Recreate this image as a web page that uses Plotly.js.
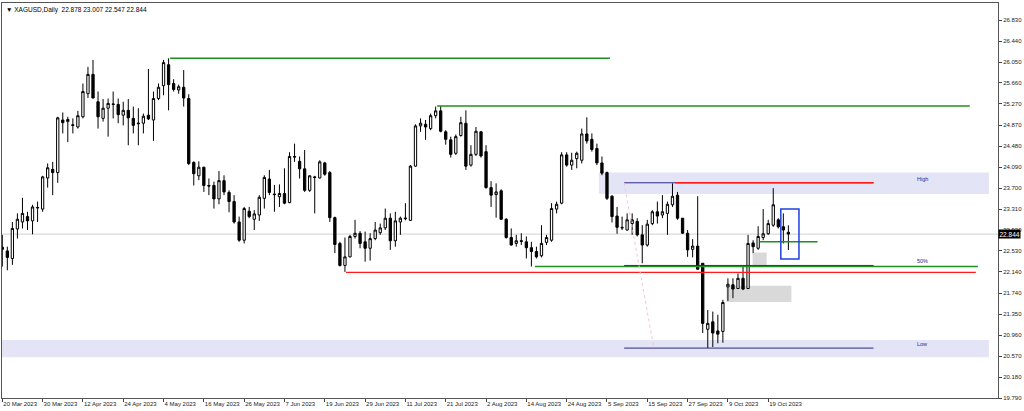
<!DOCTYPE html>
<html>
<head>
<meta charset="utf-8">
<script src="https://cdn.plot.ly/plotly-3.0.1.min.js"></script>
<style>html,body{margin:0;padding:0;background:#fff;}#chart{width:1024px;height:411px;}</style>
</head>
<body>
<div id="chart"></div>
<script>
// ---- daily bars, index 0 = 20 Mar 2023 ----
const openP  = [22.60,22.53,22.39,22.94,23.07,23.17,23.09,23.33,23.31,23.89,24.05,23.99,24.97,24.94,24.88,24.84,25.03,25.46,25.82,25.31,
25.00,25.19,25.27,25.26,25.06,25.15,25.00,24.90,24.91,25.06,24.97,25.37,25.61,26.00,25.65,25.53,25.58,25.37,24.18,23.93,
24.09,23.75,23.75,23.50,23.84,23.62,23.45,23.07,22.73,23.27,23.12,23.20,23.51,23.87,23.59,23.54,23.60,23.43,24.29,24.20,
24.06,23.66,23.91,23.89,24.17,23.99,23.15,22.67,22.26,22.42,22.80,22.86,22.70,22.58,22.76,22.87,22.96,23.14,22.72,23.07,
23.13,23.10,24.11,24.86,24.89,24.81,25.05,25.14,24.75,24.60,24.35,24.68,24.91,24.13,24.33,24.75,24.38,23.71,23.58,23.65,
23.12,22.78,22.67,22.72,22.70,22.59,22.52,22.44,22.69,22.73,23.31,23.42,24.32,24.13,24.25,24.22,24.71,24.61,24.44,24.17,
23.99,23.55,23.18,22.97,22.92,23.04,23.08,22.83,22.64,23.04,23.26,23.20,23.23,23.39,23.57,23.14,22.86,22.56,22.62,22.30,
21.07,21.21,21.04,21.03,21.86,21.90,21.83,22.02,21.83,22.68,22.58,22.78,22.85,23.01,23.11,22.98,22.878];
const highP  = [22.83,22.61,23.07,23.23,23.52,23.26,23.39,23.45,23.93,24.16,24.19,25.03,25.11,25.03,25.00,25.14,25.65,25.96,26.09,25.50,
25.36,25.37,25.50,25.37,25.31,25.36,25.22,25.19,25.09,25.92,25.50,25.65,26.09,26.12,25.73,25.63,25.90,25.45,24.20,24.20,
24.10,23.88,23.82,24.02,23.94,23.66,23.57,23.17,23.35,23.35,23.29,23.57,23.94,24.04,23.76,23.77,24.07,24.37,24.53,24.29,
24.41,23.94,23.93,24.22,24.19,24.02,23.17,22.70,22.78,22.83,23.11,22.90,22.89,22.86,23.07,23.04,23.32,23.23,23.26,23.17,
23.42,24.13,24.89,25.00,24.97,25.09,25.22,25.23,24.78,24.66,24.70,25.03,25.15,24.50,24.84,24.76,24.50,23.83,23.79,23.68,
23.14,22.95,22.83,22.86,22.80,22.70,22.61,23.01,22.83,23.42,23.45,24.37,24.37,24.36,24.38,24.81,25.02,24.72,24.53,24.29,
24.01,23.57,23.35,23.17,23.23,23.23,23.14,23.01,23.11,23.29,23.45,23.57,23.45,23.79,23.63,23.14,22.92,22.75,23.55,22.30,
21.43,21.40,21.34,21.62,22.02,22.02,22.11,22.24,22.83,22.73,22.99,23.31,23.11,23.70,23.14,23.23,23.007];
const lowP   = [22.24,22.17,22.27,22.76,22.95,22.92,22.84,23.07,23.26,23.71,23.57,23.80,24.72,24.56,24.72,24.81,25.00,25.38,25.37,24.81,
24.94,24.66,25.00,24.91,24.87,24.50,24.72,24.50,24.72,24.97,24.58,25.34,25.43,25.15,25.50,25.46,25.22,24.13,23.75,23.85,
23.63,23.57,23.32,23.40,23.57,23.25,23.04,22.70,22.67,23.14,22.92,23.09,23.32,23.57,23.26,23.35,23.40,23.42,24.19,23.88,
23.63,23.63,23.23,23.88,23.93,23.07,22.49,22.24,22.14,22.41,22.76,22.58,22.33,22.35,22.73,22.83,22.92,22.55,22.61,22.83,
23.10,23.09,24.10,24.75,24.60,24.78,25.00,24.74,24.51,24.27,24.32,24.66,24.04,24.10,24.30,24.27,23.69,23.35,23.15,23.11,
22.76,22.63,22.61,22.64,22.39,22.24,22.39,22.41,22.64,22.70,23.23,23.40,24.10,24.04,24.07,24.16,24.53,24.38,24.13,23.94,
23.48,23.06,22.85,22.92,22.91,22.83,22.80,22.30,22.61,23.01,23.04,23.14,22.83,23.35,23.11,22.85,22.42,22.41,22.18,21.00,
20.72,20.74,20.81,20.82,21.60,21.65,21.82,21.80,21.82,22.49,22.55,22.73,22.83,22.98,22.95,22.67,22.547];
const closeP = [22.56,22.41,22.95,23.12,23.23,23.09,23.35,23.34,23.91,24.08,23.99,25.01,24.92,24.98,24.87,25.05,25.50,25.82,25.38,25.03,
25.19,25.28,25.26,25.07,25.15,25.01,24.87,24.91,25.04,24.99,25.37,25.58,26.04,25.63,25.54,25.59,25.38,24.16,23.97,24.09,
23.75,23.74,23.50,23.84,23.63,23.45,23.07,22.73,23.32,23.17,23.22,23.53,23.90,23.62,23.58,23.60,23.42,24.29,24.28,24.06,
23.66,23.93,23.90,24.19,23.96,23.15,22.65,22.26,22.42,22.80,22.86,22.67,22.58,22.76,22.92,22.96,23.14,22.72,23.09,23.14,
23.14,24.11,24.86,24.91,24.84,25.05,25.14,24.76,24.61,24.33,24.66,24.92,24.11,24.33,24.76,24.30,23.71,23.57,23.63,23.12,
22.78,22.64,22.72,22.71,22.59,22.52,22.42,22.67,22.78,23.32,23.40,24.32,24.13,24.22,24.35,24.71,24.58,24.42,24.17,23.98,
23.51,23.17,22.97,22.96,23.11,23.11,22.83,22.64,23.03,23.26,23.18,23.26,23.40,23.55,23.14,22.86,22.55,22.62,22.19,21.18,
21.18,21.00,20.98,21.57,21.91,21.82,22.02,21.82,22.67,22.61,22.80,22.85,23.04,23.39,22.98,22.92,22.844];

// ---- axis labels ----
const dateTickBars   = [0,8,16,24,32,40,48,56,64,72,80,88,96,104,112,120,128,136,144,152];
const dateTickLabels = ["20 Mar 2023","30 Mar 2023","12 Apr 2023","24 Apr 2023","4 May 2023","16 May 2023","26 May 2023","7 Jun 2023",
  "19 Jun 2023","29 Jun 2023","11 Jul 2023","21 Jul 2023","2 Aug 2023","14 Aug 2023","24 Aug 2023","5 Sep 2023",
  "15 Sep 2023","27 Sep 2023","9 Oct 2023","19 Oct 2023"];
const priceTicks = [26.830,26.440,26.050,25.660,25.270,24.870,24.480,24.090,23.700,23.310,22.920,22.530,22.140,21.740,21.350,20.960,20.570,20.180,19.790];
const lastPrice = 22.844;
const headerText = "\u25BC XAGUSD,Daily  22.878 23.007 22.547 22.844";

// ---- drawn objects (bar index from/to, price levels) ----
const greenLevels = [26.12, 25.23, 22.24, 22.70];
const greenFrom   = [33.3, 86.3, 105.7, 150.3];
const greenTo     = [120.6, 192.0, 193.6, 161.8];
const redLevels   = [22.13, 23.80];
const redFrom     = [68.2, 133.6];
const redTo       = [193.2, 172.9];
const fiboLevels  = [23.80, 22.26, 20.72];
const fiboNames   = ["High", "50%", "Low"];
const fiboFrom = 123.4, fiboTo = 172.9, fiboDiagEnd = 129.3;
const zoneFrom = [118.4, -1, 143.7, 148.9];
const zoneTo   = [195.8, 195.8, 156.6, 151.7];
const zoneLow  = [23.59, 20.55, 21.58, 22.27];
const zoneHigh = [23.99, 20.87, 21.88, 22.50];
const zoneKind = ["lav", "lav", "gray", "gray"];
const boxFrom = 154.5, boxTo = 158.1, boxLow = 22.38, boxHigh = 23.31;

const xs = openP.map((_, i) => i);
const FONT = 'Liberation Sans, Arial, sans-serif';

const shapes = [];
zoneFrom.forEach((f, i) => shapes.push({type:'rect', layer:'below', xref:'x', yref:'y', x0:f, x1:zoneTo[i], y0:zoneLow[i], y1:zoneHigh[i],
  fillcolor: zoneKind[i] === 'lav' ? '#e4e4f7' : '#d9d9d9', line:{width:0}}));
shapes.push({type:'line', layer:'below', xref:'paper', yref:'y', x0:0, x1:1, y0:lastPrice, y1:lastPrice, line:{color:'#d0d0d0', width:1}});
greenLevels.forEach((v, i) => shapes.push({type:'line', xref:'x', yref:'y', x0:greenFrom[i], x1:greenTo[i], y0:v, y1:v, line:{color:'#1f8f1f', width:1.4}}));
fiboLevels.forEach(v => shapes.push({type:'line', xref:'x', yref:'y', x0:fiboFrom, x1:fiboTo, y0:v, y1:v, line:{color:'#2a2a8c', width:1}}));
redLevels.forEach((v, i) => shapes.push({type:'line', xref:'x', yref:'y', x0:redFrom[i], x1:redTo[i], y0:v, y1:v, line:{color:'#ff1a1a', width:1.4}}));
shapes.push({type:'line', xref:'x', yref:'y', x0:fiboFrom, x1:fiboDiagEnd, y0:fiboLevels[0], y1:fiboLevels[2], line:{color:'#f0c8d0', width:1, dash:'dot'}});
shapes.push({type:'rect', xref:'x', yref:'y', x0:boxFrom, x1:boxTo, y0:boxLow, y1:boxHigh, line:{color:'#2040e0', width:1.5}, fillcolor:'rgba(0,0,0,0)'});

const annotations = [
  {xref:'paper', yref:'paper', x:0.002, y:0.998, xanchor:'left', yanchor:'top', text:headerText, showarrow:false,
   font:{family:FONT, size:6.5, color:'#000'}},
  {xref:'paper', yref:'y', x:1.0, y:lastPrice, xanchor:'left', yanchor:'middle', text:lastPrice.toFixed(3), showarrow:false,
   bgcolor:'#000', font:{family:FONT, size:6.5, color:'#fff'}, borderpad:0.5}
];
fiboLevels.forEach((v, i) => annotations.push({xref:'x', yref:'y', x:181.2, y:v, xanchor:'left', yanchor:'bottom', yshift:-1,
  text:fiboNames[i], showarrow:false, font:{family:FONT, size:5.5, color:'#2a2a8c'}}));

const trace = {
  type:'candlestick', x:xs, open:openP, high:highP, low:lowP, close:closeP,
  increasing:{line:{color:'#000', width:1}, fillcolor:'#ffffff'},
  decreasing:{line:{color:'#000', width:1}, fillcolor:'#000000'},
  whiskerwidth:0, hoverinfo:'skip'
};

const layout = {
  width:1024, height:411,
  margin:{l:2, r:26, t:3, b:13},
  paper_bgcolor:'#fff', plot_bgcolor:'#fff',
  showlegend:false,
  boxgap:0.35,
  xaxis:{range:[-0.06, 197.6], rangeslider:{visible:false}, showgrid:false, zeroline:false,
    tickmode:'array', tickvals:dateTickBars, ticktext:dateTickLabels, ticks:'outside', ticklen:3, tickcolor:'#444',
    tickangle:0, automargin:false,
    ticklabelposition:'outside right', tickfont:{family:FONT, size:6, color:'#222'},
    showline:true, linecolor:'#555', linewidth:1, mirror:true, fixedrange:true},
  yaxis:{range:[19.79, 27.15], side:'right', showgrid:false, zeroline:false, automargin:false,
    tickmode:'array', tickvals:priceTicks, ticktext:priceTicks.map(v => v.toFixed(3)), ticks:'outside', ticklen:3, tickcolor:'#444',
    tickfont:{family:FONT, size:6, color:'#222'},
    showline:true, linecolor:'#555', linewidth:1, mirror:true, fixedrange:true},
  shapes:shapes,
  annotations:annotations
};

Plotly.newPlot('chart', [trace], layout, {staticPlot:true, displayModeBar:false});
</script>
</body>
</html>
